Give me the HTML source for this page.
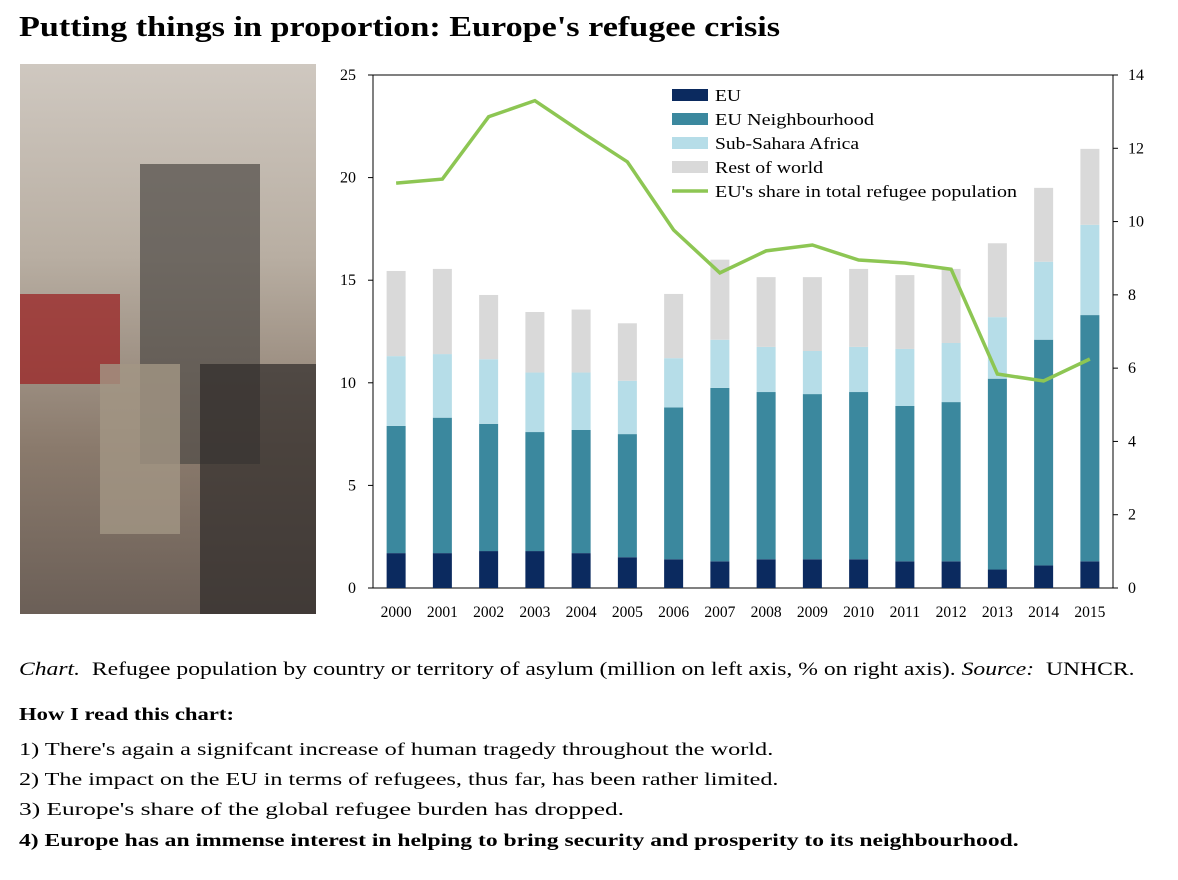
<!DOCTYPE html>
<html><head><meta charset="utf-8"><style>
body{margin:0;background:#fff;width:1178px;height:880px;overflow:hidden;font-family:"Liberation Serif",serif;color:#000;position:relative}
.t{position:absolute;white-space:nowrap;transform-origin:0 0}
</style></head><body>
<div class="t" style="left:19px;top:12px;font-size:28px;font-weight:bold;transform:scaleX(1.22)">Putting things in proportion: Europe's refugee crisis</div>
<svg style="position:absolute;left:20px;top:64px" width="296" height="550">
<defs><linearGradient id="pg" x1="0" y1="0" x2="0" y2="1"><stop offset="0" stop-color="#cfc8c0"/><stop offset="0.35" stop-color="#b8aea2"/><stop offset="0.7" stop-color="#8a7a6c"/><stop offset="1" stop-color="#6b5f57"/></linearGradient></defs>
<rect width="296" height="550" fill="url(#pg)"/>
<rect x="120" y="100" width="120" height="300" fill="#4e4a46" opacity="0.7"/>
<rect x="0" y="230" width="100" height="90" fill="#9b2a2a" opacity="0.8"/>
<rect x="80" y="300" width="80" height="170" fill="#a39684" opacity="0.8"/>
<rect x="180" y="300" width="116" height="250" fill="#2f2b29" opacity="0.7"/>
</svg>
<svg id="chart" style="position:absolute;left:0;top:0" width="1178" height="650"></svg>
<div class="t" style="left:19px;top:659px;font-size:19px;transform:scaleX(1.243)"><i>Chart.</i>&nbsp; Refugee population by country or territory of asylum (million on left axis, % on right axis). <i>Source:</i>&nbsp; UNHCR.</div>
<div class="t" style="left:19px;top:704px;font-size:18px;font-weight:bold;transform:scaleX(1.26)">How I read this chart:</div>
<div class="t" style="left:19px;top:739px;font-size:18px;transform:scaleX(1.35)">1) There's again a signifcant increase of human tragedy throughout the world.</div>
<div class="t" style="left:19px;top:769px;font-size:18px;transform:scaleX(1.34)">2) The impact on the EU in terms of refugees, thus far, has been rather limited.</div>
<div class="t" style="left:19px;top:799px;font-size:18px;transform:scaleX(1.41)">3) Europe's share of the global refugee burden has dropped.</div>
<div class="t" style="left:19px;top:830px;font-size:18px;font-weight:bold;transform:scaleX(1.31)">4) Europe has an immense interest in helping to bring security and prosperity to its neighbourhood.</div>
<script>
const years=["2000","2001","2002","2003","2004","2005","2006","2007","2008","2009","2010","2011","2012","2013","2014","2015"];
const eu=[1.7,1.7,1.8,1.8,1.7,1.5,1.4,1.3,1.4,1.4,1.4,1.3,1.3,0.9,1.1,1.3];
const neighbourhood=[6.2,6.6,6.2,5.8,6.0,6.0,7.4,8.45,8.15,8.05,8.15,7.57,7.76,9.3,11.0,12.0];
const subSahara=[3.4,3.1,3.15,2.9,2.8,2.6,2.4,2.35,2.2,2.1,2.2,2.78,2.88,3.0,3.8,4.4];
const restOfWorld=[4.15,4.15,3.13,2.95,3.07,2.8,3.13,3.9,3.4,3.6,3.8,3.6,3.61,3.6,3.6,3.7];
const euShare=[11.05,11.16,12.86,13.3,12.45,11.63,9.77,8.6,9.2,9.36,8.95,8.87,8.7,5.84,5.65,6.25];
const leftTicks=[0,5,10,15,20,25];
const rightTicks=[0,2,4,6,8,10,12,14];
const svg=document.getElementById('chart');const NS='http://www.w3.org/2000/svg';
const L=373,R=1113,T=75,B=588,band=(R-L)/years.length,bw=19;
const yL=v=>B-(B-T)*v/25, yR=v=>B-(B-T)*v/14, xC=i=>L+band*(i+0.5);
function mk(tag,a,parent){const e=document.createElementNS(NS,tag);for(const k in a)e.setAttribute(k,a[k]);(parent||svg).appendChild(e);return e;}
const box=mk('rect',{x:L,y:T,width:R-L,height:B-T,fill:'none',stroke:'#000','stroke-width':1});


leftTicks.forEach(v=>{const t=mk('text',{x:356,y:yL(v)+5,'text-anchor':'end','font-size':16,'font-family':'Liberation Serif'});t.textContent=v;


mk('line',{x1:L-5,x2:L,y1:yL(v),y2:yL(v),stroke:'#000'});});
rightTicks.forEach(v=>{const t=mk('text',{x:1128,y:yR(v)+5,'font-size':16,'font-family':'Liberation Serif'});t.textContent=v;


mk('line',{x1:R,x2:R+5,y1:yR(v),y2:yR(v),stroke:'#000'});});
const series=[[eu,'#0b2a5f','bar-eu'],[neighbourhood,'#3b889e','bar-neighbourhood'],[subSahara,'#b6dde8','bar-sub-sahara'],[restOfWorld,'#d9d9d9','bar-rest-of-world']];
years.forEach((y,i)=>{let acc=0;series.forEach(([arr,c,n])=>{const r=mk('rect',{x:xC(i)-bw/2,y:yL(acc+arr[i]),width:bw,height:yL(acc)-yL(acc+arr[i]),fill:c});


acc+=arr[i];});
const t=mk('text',{x:xC(i),y:617,'text-anchor':'middle','font-size':15.5,'font-family':'Liberation Serif'});t.textContent=y;

});
const pl=mk('polyline',{points:euShare.map((v,i)=>xC(i)+','+yR(v)).join(' '),fill:'none',stroke:'#8dc653','stroke-width':3.5});


const leg=[['EU','#0b2a5f',26],['EU Neighbourhood','#3b889e',159],['Sub-Sahara Africa','#b6dde8',144],['Rest of world','#d9d9d9',108],["EU's share in total refugee population",'#8dc653',302]];
leg.forEach(([n,c,w],k)=>{const y=95+k*24;
if(k<4)mk('rect',{x:672,y:y-6,width:36,height:12,fill:c});else mk('line',{x1:672,x2:708,y1:y,y2:y,stroke:c,'stroke-width':3.5});
const t=mk('text',{x:715,y:y+6,'font-size':17,'font-family':'Liberation Serif',textLength:w,lengthAdjust:'spacingAndGlyphs'});t.textContent=n;

});
</script>
</body></html>
